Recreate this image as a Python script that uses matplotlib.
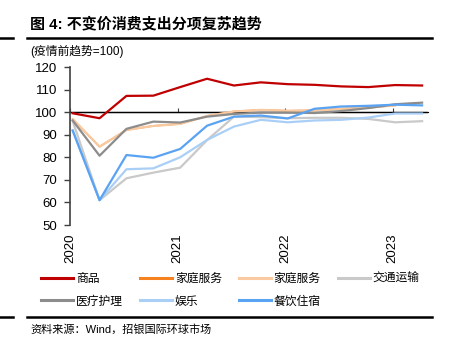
import numpy as np
import matplotlib
matplotlib.use('Agg')
import matplotlib.pyplot as plt
from matplotlib.lines import Line2D

plt.rcParams['font.family'] = ['Liberation Sans', 'Noto Sans CJK SC', 'DejaVu Sans']

# quarterly points, 2020Q1 .. 2023Q2 (pre-pandemic trend = 100)
quarters = 2020.025 + 0.25 * np.arange(14)
goods = [99.5, 97.3, 107.2, 107.3, 111.1, 114.8, 111.8, 113.2, 112.4, 112.1, 111.4, 111.1, 112.0, 111.8]
household = [96.9, 84.7, 92.1, 93.9, 94.8, 98.3, 100.3, 101.0, 100.6, 100.8, 101.5, 102.0, 103.0, np.nan]
household_lt = [96.9, 84.7, 92.1, 93.9, 94.8, 98.3, 100.3, 101.0, 100.6, 100.8, 101.5, 102.0, 103.0, np.nan]
transport = [96.0, 61.0, 70.7, 73.2, 75.4, 87.6, 98.0, 97.8, 97.3, 97.5, 97.5, 97.0, 95.5, 96.0]
medical = [96.3, 80.7, 92.6, 95.8, 95.4, 98.0, 99.2, 99.8, 99.8, 99.6, 100.5, 101.8, 103.5, 104.2]
recreation = [92.0, 61.0, 74.7, 75.1, 80.0, 87.7, 93.6, 96.6, 95.5, 96.3, 96.6, 97.6, 99.4, 99.4]
food_hotel = [91.8, 61.0, 81.0, 79.8, 83.7, 94.0, 98.0, 98.5, 97.2, 101.5, 102.5, 102.8, 103.3, 103.0]

years = [2020, 2021, 2022, 2023]
yticks = [50, 60, 70, 80, 90, 100, 110, 120]

fig = plt.figure(figsize=(4.53, 3.55), dpi=100)
ax = fig.add_axes([70/453, 1 - 225/355, (428 - 70)/453, (225 - 67)/355])

lw = 1.6
ax.plot(quarters, household, color='#F5821F', lw=lw - 0.4, zorder=2)
ax.plot(quarters, household_lt, color='#F9C9A0', lw=lw, zorder=3)
ax.plot(quarters, transport, color='#C9C9C9', lw=lw, zorder=3)
ax.plot(quarters, recreation, color='#AACFF7', lw=lw, zorder=4)
ax.plot(quarters, medical, color='#8C8C8C', lw=lw, zorder=4)
ax.plot(quarters, food_hotel, color='#5AA3F2', lw=lw, zorder=5)
ax.plot(quarters, goods, color='#C00000', lw=lw, zorder=6)

ax.set_xlim(2020.0, 2023.33)
ax.set_ylim(50, 120)
ax.set_yticks(yticks)
ax.tick_params(axis='y', direction='out', length=4, width=1, color='#404040',
               labelsize=9.5, pad=5)
for s in ['top', 'right', 'bottom']:
    ax.spines[s].set_visible(False)
ax.spines['left'].set_color('#404040')
ax.spines['left'].set_linewidth(1.2)

ax.set_xticks(years)
ax.set_xticklabels([str(y) for y in years], rotation=90, fontsize=9.5)
ax.tick_params(axis='x', length=0, pad=6)

# category axis crossing at 100
ax.axhline(100, color='black', lw=1.0, zorder=1)
sec = ax.secondary_xaxis((100 - 50) / (120 - 50))
sec.set_xticks(years)
sec.set_xticklabels(['', '', '', ''])
sec.tick_params(length=3, width=0.8, color='#404040')
sec.spines['bottom'].set_visible(False)

fig.text(30/453, 1 - 24/355, '图 4: 不变价消费支出分项复苏趋势', fontsize=10.8,
         fontweight='bold', va='center', ha='left')
fig.text(30/453, 1 - 52/355, '(疫情前趋势=100)', fontsize=8.5, va='center', ha='left')
fig.text(30/453, 1 - 329/355, '资料来源：Wind，招银国际环球市场', fontsize=8,
         va='center', ha='left')

# rules
fig.add_artist(Line2D([27/453, 432/453], [1 - 38/355] * 2, color='black', lw=1.8))
fig.add_artist(Line2D([27/453, 432/453], [1 - 316.5/355] * 2, color='black', lw=1.8))
fig.add_artist(Line2D([0, 13/453], [1 - 38/355] * 2, color='black', lw=1.8))
fig.add_artist(Line2D([0, 13/453], [1 - 316.5/355] * 2, color='black', lw=1.8))

handles = [
    Line2D([], [], color='#C00000', lw=2.2),
    Line2D([], [], color='#8C8C8C', lw=2.2),
    Line2D([], [], color='#F5821F', lw=2.2),
    Line2D([], [], color='#AACFF7', lw=2.2),
    Line2D([], [], color='#F9C9A0', lw=2.2),
    Line2D([], [], color='#5AA3F2', lw=2.2),
    Line2D([], [], color='#C9C9C9', lw=2.2),
]
labels = ['商品', '医疗护理', '家庭服务', '娱乐', '家庭服务', '餐饮住宿', '交通运输']
fig.legend(handles, labels, ncol=4, loc='upper left', bbox_to_anchor=(41/453, 1 - 273/355),
           frameon=False, fontsize=8.5, handlelength=2.7, handletextpad=0.25,
           columnspacing=1.45, labelspacing=0.9, borderpad=0, borderaxespad=0)

fig.savefig('out.png', dpi=100)
